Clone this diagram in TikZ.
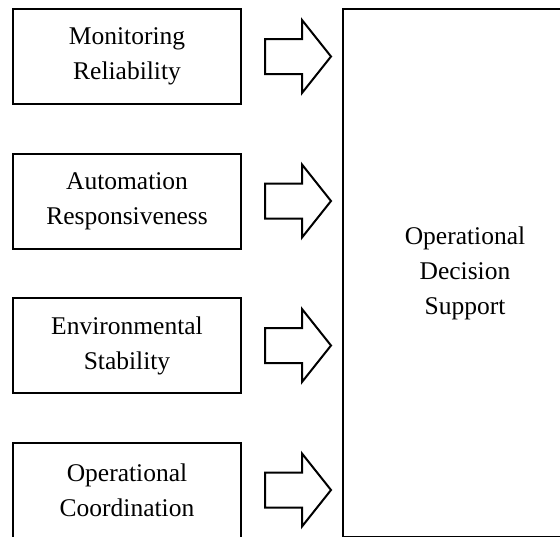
\documentclass[tikz,border=0pt]{standalone}
\usepackage{fontspec}
\setmainfont{Liberation Serif}
\usetikzlibrary{positioning}

\begin{document}
\begin{tikzpicture}[x=1pt, y=1pt, node distance=47.5pt,
    factor/.style={rectangle, draw, line width=2pt, text centered, align=center, minimum width=228pt, minimum height=95pt, font=\fontsize{25.5}{35}\selectfont},
    support/.style={factor, minimum width=244pt, minimum height=528pt},
    fatarrow/.style={draw, line width=2pt, line join=miter}]

    \useasboundingbox (0,0) rectangle (560,-536);

    % the four factors, stacked on the left
    \node (monitor) [factor, anchor=north west] at (12,-8) {Monitoring\\Reliability};
    \node (auto) [factor, below=of monitor] {Automation\\Responsiveness};
    \node (env) [factor, below=of auto] {Environmental\\Stability};
    \node (coord) [factor, below=of env] {Operational\\Coordination};

    % tall box on the right
    \node (decision) [support, anchor=north west] at ([xshift=100pt]monitor.north east) {Operational\\Decision\\Support};

    % hollow block arrows from each factor towards it
    \foreach \f in {monitor, auto, env, coord}
        \draw[fatarrow] ([xshift=23pt]\f.east) coordinate (tail)
            ([xshift=-11pt]decision.west |- \f.east) coordinate (tip)
            (tail) -- ++(0,17.5) -- ([xshift=-29pt, yshift=17.5pt]tip) -- ++(0,19) -- (tip)
            -- ++(-29,-36.5) -- ++(0,19) -- ([yshift=-17.5pt]tail) -- cycle;

\end{tikzpicture}
\end{document}
